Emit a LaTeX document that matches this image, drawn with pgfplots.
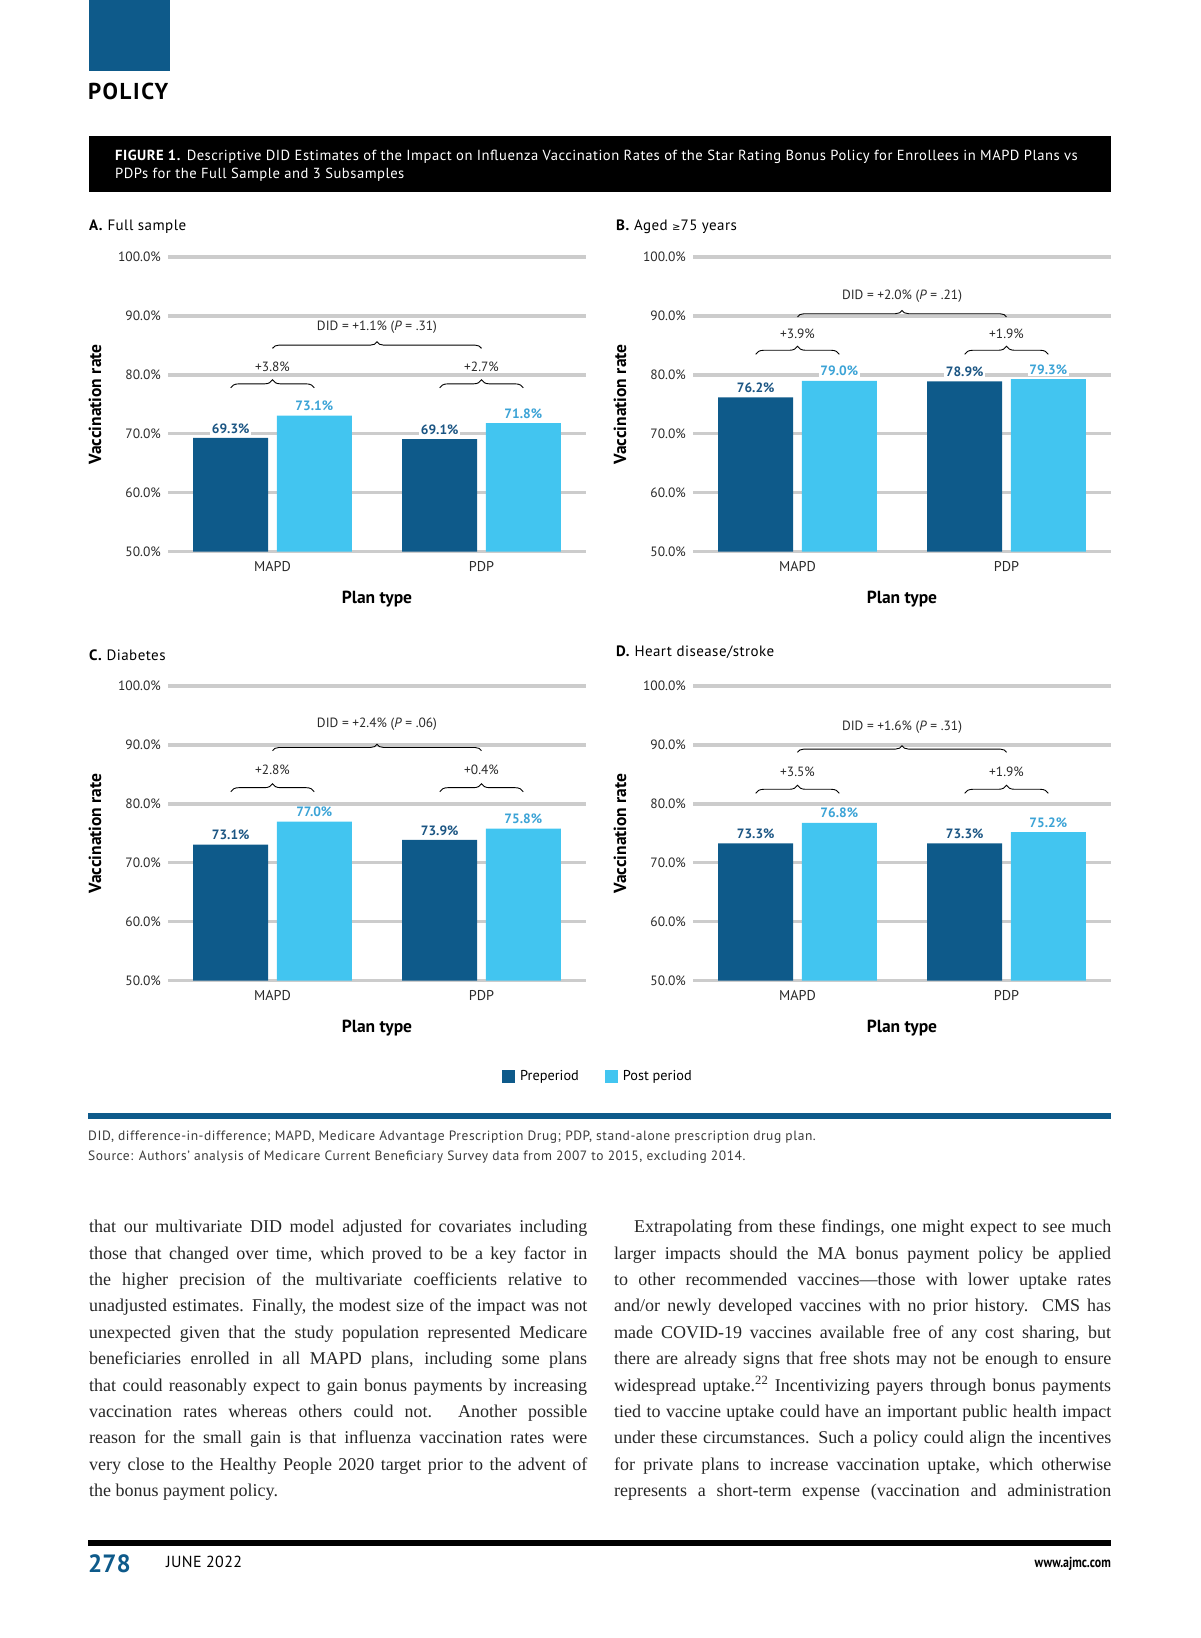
\documentclass[border=0pt]{standalone}
\usepackage{pgfplots}
\pgfplotsset{compat=1.18}
\usetikzlibrary{decorations.pathreplacing}
\usepackage{fontspec}
\setmainfont{PT Sans}
\newfontfamily\bodyfont{Liberation Serif}
\newfontfamily\symfont{DejaVu Sans}
\newfontfamily\notefam[LetterSpace=4]{PT Sans}
\newfontfamily\capfam[LetterSpace=3.5]{PT Sans}
\newfontfamily\titfam[LetterSpace=3]{PT Sans}
\newfontfamily\polfam[LetterSpace=7]{PT Sans}
\newfontfamily\junefam[LetterSpace=2]{PT Sans}
\usepackage{graphicx}

\definecolor{hblue}{HTML}{0E5A8A}
\definecolor{preblue}{HTML}{0E5A8A}
\definecolor{postblue}{HTML}{42C5F0}
\definecolor{prelab}{HTML}{1B5583}
\definecolor{postlab}{HTML}{3BA3D6}
\definecolor{gridgray}{HTML}{CCCCCC}
\definecolor{tickgray}{HTML}{2A2A2A}
\definecolor{footgray}{HTML}{3A3A3A}
\definecolor{bodygray}{HTML}{262626}

\newcommand\tickfont{\fontsize{13.5}{16}\selectfont}
\newcommand\smfont{\fontsize{13.4}{16}\selectfont}
\newcommand\valfont{\fontsize{13.5}{16}\selectfont\bfseries}
\newcommand\labfont{\fontsize{17.5}{20}\selectfont\bfseries}
\newcommand\ptitlefont{\titfam\fontsize{15}{18}\selectfont}
\newcommand\capfont{\capfam\fontsize{14.6}{17}\selectfont}
\newcommand\notefont{\notefam\fontsize{13.5}{16}\selectfont}
\newcommand\bodysize{\bodyfont\fontsize{18}{21}\selectfont}

\newsavebox\lbox
\newcommand\jline[2]{\sbox\lbox{#2}\ifdim\wd\lbox>#1\relax\pgfmathsetmacro\sc{#1/\wd\lbox}\scalebox{\sc}[1]{\usebox\lbox}\else\makebox[#1][s]{#2}\fi}

\pgfplotsset{
 panel/.style={
  scale only axis, width=418pt, height=294.7pt,
  anchor=south west,
  xmin=-0.5, xmax=1.5, ymin=50, ymax=100,
  ytick={50,60,70,80,90,100},
  yticklabels={50.0\%,60.0\%,70.0\%,80.0\%,90.0\%,100.0\%},
  xtick={0,1}, xticklabels={MAPD,PDP},
  ymajorgrids,
  grid style={line width=3.3pt, color=gridgray},
  axis line style={draw=none},
  major tick length=0pt,
  tick style={draw=none},
  yticklabel style={font=\tickfont, text=tickgray, anchor=east, inner sep=0pt, xshift=-7pt},
  xticklabel style={font=\fontsize{14.2}{16}\selectfont, text=tickgray, anchor=base, inner sep=0pt, yshift=-20pt},
  ylabel={Vaccination rate}, xlabel={Plan type},
  every axis y label/.style={at={(axis description cs:-0.1746,0.5)}, rotate=90, anchor=center, font=\labfont},
  every axis x label/.style={at={(axis description cs:0.5,0)}, anchor=base, yshift=-51.6pt, font=\labfont},
  ybar=8.6pt, bar width=75pt,
  /pgf/number format/assume math mode=true,
  nodes near coords={\pgfmathprintnumber[fixed,fixed zerofill,precision=1]{\pgfplotspointmeta}\%},
  every node near coord/.append style={font=\valfont, anchor=south, fill=white, inner sep=1.5pt, yshift=2.9pt},
 },
 pre/.style={fill=preblue, draw=none, every node near coord/.append style={text=prelab}},
 post/.style={fill=postblue, draw=none, every node near coord/.append style={text=postlab}},
}
\tikzset{
 brc/.style={decorate, decoration={brace, amplitude=#1}, line width=0.9pt, black},
 brc/.default=8pt,
 smlab/.style={font=\smfont, text=tickgray, fill=white, fill opacity=0.6, text opacity=1, inner sep=1.5pt},
}

\begin{document}
\begin{tikzpicture}
\path[use as bounding box] (0pt,0pt) rectangle (1200pt,-1638pt);

% header
\fill[hblue] (89pt,0pt) rectangle (170pt,-71pt);
\node[anchor=base west, inner sep=0pt, font=\polfam\fontsize{23}{26}\selectfont\bfseries] at (88pt,-99pt) {POLICY};
\fill[black] (89pt,-136pt) rectangle (1111pt,-192pt);
\node[anchor=base west, inner sep=0pt, text=white, font=\capfont] at (115pt,-160.5pt) {\textbf{FIGURE 1.} Descriptive DID Estimates of the Impact on Influenza Vaccination Rates of the Star Rating Bonus Policy for Enrollees in MAPD Plans vs};
\node[anchor=base west, inner sep=0pt, text=white, font=\capfont] at (115pt,-178.7pt) {PDPs for the Full Sample and 3 Subsamples};

% panel titles
\node[anchor=base west, inner sep=0pt, font=\ptitlefont] at (89pt,-230.7pt) {\textbf{A.} Full sample};
\node[anchor=base west, inner sep=0pt, font=\ptitlefont] at (616pt,-230.7pt) {\textbf{B.} Aged {\symfont\fontsize{10}{10}\selectfont ≥}75 years};
\node[anchor=base west, inner sep=0pt, font=\ptitlefont] at (89pt,-660.3pt) {\textbf{C.} Diabetes};
\node[anchor=base west, inner sep=0pt, font=\ptitlefont] at (616pt,-656pt) {\textbf{D.} Heart disease/stroke};

% Panel A
\begin{axis}[panel, at={(168pt,-551.7pt)}]
\addplot[pre] coordinates {(0,69.3) (1,69.1)};
\addplot[post] coordinates {(0,73.1) (1,71.8)};
\draw[brc] (axis cs:-0.2,77.8) -- (axis cs:0.2,77.8);
\draw[brc] (axis cs:0.8,77.8) -- (axis cs:1.2,77.8);
\node[smlab] at (axis cs:0,81.45) {+3.8\%};
\node[smlab] at (axis cs:1,81.45) {+2.7\%};
\draw[brc=6.5pt] (axis cs:0,84.5) -- (axis cs:1,84.5);
\node[smlab] at (axis cs:0.5,88.14) {DID = +1.1\% (\textit{P} = .31)};
\end{axis}

% Panel B
\begin{axis}[panel, at={(693pt,-551.7pt)}]
\addplot[pre] coordinates {(0,76.2) (1,78.9)};
\addplot[post] coordinates {(0,79.0) (1,79.3)};
\draw[brc] (axis cs:-0.2,83.5) -- (axis cs:0.2,83.5);
\draw[brc] (axis cs:0.8,83.5) -- (axis cs:1.2,83.5);
\node[smlab] at (axis cs:0,87.0) {+3.9\%};
\node[smlab] at (axis cs:1,87.0) {+1.9\%};
\draw[brc=6.5pt] (axis cs:0,89.83) -- (axis cs:1,89.83);
\node[smlab] at (axis cs:0.5,93.34) {DID = +2.0\% (\textit{P} = .21)};
\end{axis}

% Panel C
\begin{axis}[panel, at={(168pt,-980.7pt)},
  legend style={at={(axis description cs:1.0263,-0.3234)}, anchor=center, draw=none, fill=none,
    legend columns=2, font=\fontsize{14.3}{16}\selectfont, inner sep=0pt,
    nodes={inner sep=0pt, anchor=west},
    /tikz/every odd column/.append style={column sep=5pt},
    /tikz/every even column/.append style={column sep=26pt}},
  legend image code/.code={\path[#1, draw=none] (0pt,-6.5pt) rectangle (13pt,6.5pt);}]
\addplot[pre] coordinates {(0,73.1) (1,73.9)};
\addplot[post] coordinates {(0,77.0) (1,75.8)};
\legend{Preperiod, Post period}
\draw[brc] (axis cs:-0.2,82.07) -- (axis cs:0.2,82.07);
\draw[brc] (axis cs:0.8,82.07) -- (axis cs:1.2,82.07);
\node[smlab] at (axis cs:0,85.75) {+2.8\%};
\node[smlab] at (axis cs:1,85.75) {+0.4\%};
\draw[brc=6.5pt] (axis cs:0,89.02) -- (axis cs:1,89.02);
\node[smlab] at (axis cs:0.5,93.5) {DID = +2.4\% (\textit{P} = .06)};
\end{axis}

% Panel D
\begin{axis}[panel, at={(693pt,-980.7pt)}]
\addplot[pre] coordinates {(0,73.3) (1,73.3)};
\addplot[post] coordinates {(0,76.8) (1,75.2)};
\draw[brc] (axis cs:-0.2,81.8) -- (axis cs:0.2,81.8);
\draw[brc] (axis cs:0.8,81.8) -- (axis cs:1.2,81.8);
\node[smlab] at (axis cs:0,85.46) {+3.5\%};
\node[smlab] at (axis cs:1,85.46) {+1.9\%};
\draw[brc=6.5pt] (axis cs:0,88.75) -- (axis cs:1,88.75);
\node[smlab] at (axis cs:0.5,93.0) {DID = +1.6\% (\textit{P} = .31)};
\end{axis}

% rule and notes
\fill[hblue] (88pt,-1113pt) rectangle (1111pt,-1119pt);
\node[anchor=base west, inner sep=0pt, font=\notefont, text=footgray] at (88pt,-1140pt) {DID, difference-in-difference; MAPD, Medicare Advantage Prescription Drug; PDP, stand-alone prescription drug plan.};
\node[anchor=base west, inner sep=0pt, font=\notefont, text=footgray] at (88pt,-1160.7pt) {Source: Authors’ analysis of Medicare Current Beneficiary Survey data from 2007 to 2015, excluding 2014.};

% body text, left column
\begin{scope}[every node/.style={anchor=base west, inner sep=0pt, font=\bodysize, text=bodygray}]
\node at (89pt,-1232.7pt) {\jline{498pt}{that our multivariate DID model adjusted for covariates including}};
\node at (89pt,-1259.1pt) {\jline{498pt}{those that changed over time, which proved to be a key factor in}};
\node at (89pt,-1285.5pt) {\jline{498pt}{the higher precision of the multivariate coefficients relative to}};
\node at (89pt,-1311.9pt) {\jline{498pt}{unadjusted estimates. Finally, the modest size of the impact was not}};
\node at (89pt,-1338.3pt) {\jline{498pt}{unexpected given that the study population represented Medicare}};
\node at (89pt,-1364.7pt) {\jline{498pt}{beneficiaries enrolled in all MAPD plans, including some plans}};
\node at (89pt,-1391.1pt) {\jline{498pt}{that could reasonably expect to gain bonus payments by increasing}};
\node at (89pt,-1417.5pt) {\jline{498pt}{vaccination rates whereas others could not. Another possible}};
\node at (89pt,-1443.9pt) {\jline{498pt}{reason for the small gain is that influenza vaccination rates were}};
\node at (89pt,-1470.3pt) {\jline{498pt}{very close to the Healthy People 2020 target prior to the advent of}};
\node at (89pt,-1496.7pt) {the bonus payment policy.};
% right column
\node at (634pt,-1232.7pt) {\jline{477pt}{Extrapolating from these findings, one might expect to see much}};
\node at (614pt,-1259.1pt) {\jline{497pt}{larger impacts should the MA bonus payment policy be applied}};
\node at (614pt,-1285.5pt) {\jline{497pt}{to other recommended vaccines—those with lower uptake rates}};
\node at (614pt,-1311.9pt) {\jline{497pt}{and/or newly developed vaccines with no prior history. CMS has}};
\node at (614pt,-1338.3pt) {\jline{497pt}{made COVID-19 vaccines available free of any cost sharing, but}};
\node at (614pt,-1364.7pt) {\jline{497pt}{there are already signs that free shots may not be enough to ensure}};
\node at (614pt,-1391.1pt) {\jline{497pt}{widespread uptake.\textsuperscript{22} Incentivizing payers through bonus payments}};
\node at (614pt,-1417.5pt) {\jline{497pt}{tied to vaccine uptake could have an important public health impact}};
\node at (614pt,-1443.9pt) {\jline{497pt}{under these circumstances. Such a policy could align the incentives}};
\node at (614pt,-1470.3pt) {\jline{497pt}{for private plans to increase vaccination uptake, which otherwise}};
\node at (614pt,-1496.7pt) {\jline{497pt}{represents a short-term expense (vaccination and administration}};
\end{scope}

% footer
\fill[black] (88pt,-1540pt) rectangle (1111pt,-1545.7pt);
\node[anchor=base west, inner sep=0pt, font=\fontsize{25}{28}\selectfont\bfseries, text=hblue] at (88pt,-1572.7pt) {278};
\node[anchor=base west, inner sep=0pt, font=\junefam\fontsize{16}{18}\selectfont] at (166pt,-1567.3pt) {JUNE 2022};
\node[anchor=base east, inner sep=0pt, font=\fontsize{14.5}{17}\selectfont\bfseries] at (1111pt,-1567.3pt) {\scalebox{0.82}[1]{www.ajmc.com}};
\end{tikzpicture}
\end{document}
